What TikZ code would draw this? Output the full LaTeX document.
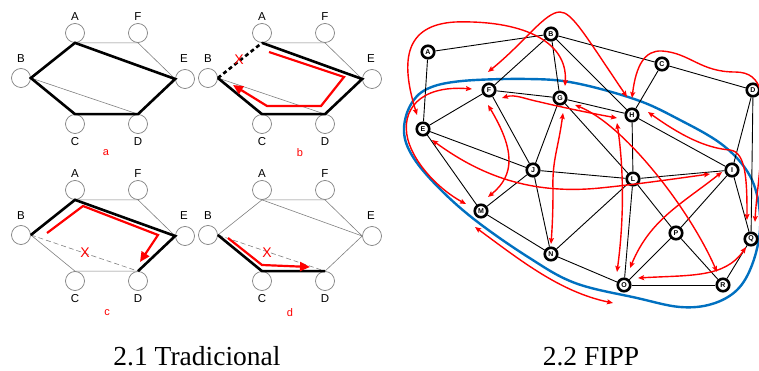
\documentclass[tikz,border=0pt]{standalone}
\usepackage{fontspec}
\setmainfont{Liberation Sans}
\newfontfamily\capfont{Liberation Serif}
\usetikzlibrary{arrows.meta,calc}
\definecolor{fippblue}{RGB}{0,112,192}
\definecolor{edgegray}{RGB}{128,128,128}

\newcommand{\hexpanel}[1]{%
  \node[hc] (#1A) at (75,33) {};
  \node[hc] (#1F) at (138,33) {};
  \node[hc] (#1B) at (21,78) {};
  \node[hc] (#1E) at (185,79) {};
  \node[hc] (#1C) at (75,124) {};
  \node[hc] (#1D) at (138,124) {};
  \node[hl] (#1Al) at (75,17) {A};
  \node[hl] (#1Fl) at (138,17) {F};
  \node[hl] (#1Bl) at (21,59) {B};
  \node[hl] (#1El) at (184,59) {E};
  \node[hl] (#1Cl) at (75,142) {C};
  \node[hl] (#1Dl) at (138,142) {D};
}

\begin{document}
\begin{tikzpicture}[x=1pt,y=-1pt,
  hc/.style={circle,draw=edgegray,line width=0.7pt,minimum size=19pt,inner sep=0pt},
  hl/.style={font=\fontsize{11.5}{11.5}\selectfont,inner sep=0pt},
  tag/.style={text=red,font=\fontsize{11}{11}\selectfont,inner sep=0pt},
  xmark/.style={text=red,font=\fontsize{14}{14}\selectfont,inner sep=0pt},
  grayedge/.style={draw=edgegray,line width=0.6pt},
  blackedge/.style={draw=black,line width=2.6pt},
  dashblack/.style={draw=black,line width=2.6pt,dash pattern=on 4pt off 3pt},
  dashgray/.style={draw=edgegray,line width=0.6pt,dash pattern=on 5pt off 3pt},
  routered/.style={draw=red,line width=2.2pt,-{Triangle[length=10pt,width=9pt]}},
  gnode/.style={circle,draw=black,line width=2.6pt,fill=white,minimum size=12.5pt,inner sep=0pt,font=\fontsize{7}{7}\selectfont\bfseries},
  gedge/.style={draw=black,line width=0.9pt},
  farrow/.style={draw=red,line width=1.4pt,{Stealth[length=6pt,width=5pt,inset=1pt]}-{Stealth[length=6pt,width=5pt,inset=1pt]}},
  blueline/.style={draw=fippblue,line width=2.4pt},
  captext/.style={font=\capfont\fontsize{27.5}{27.5}\selectfont,inner sep=0pt,anchor=base}
]
\useasboundingbox (0,0) rectangle (759,371);

% ---- panel a
\begin{scope}
\hexpanel{a}
\draw[grayedge] (aA.south) -- (aF.south) -- (aE.west);
\draw[grayedge] (aB.east) -- (aD.north);
\draw[blackedge] (aA.south) -- (aB.east) -- (aC.north) -- (aD.north) -- (aE.west) -- cycle;
\node[tag] (atag) at (106,153) {a};
\end{scope}

% ---- panel b
\begin{scope}[shift={(187,0)}]
\hexpanel{b}
\draw[grayedge] (bA.south) -- (bF.south) -- (bE.west);
\draw[grayedge] (bB.east) -- (bD.north);
\draw[blackedge] (bA.south) -- (bE.west) -- (bD.north) -- (bC.north) -- (bB.east);
\draw[dashblack] (bB.east) -- (bA.south);
\node[xmark] (bX) at (52,60) {X};
\draw[routered] (82,52) -- (157,77) -- (134,106) -- (80,106) -- (46,85);
\node[tag] (btag) at (113,153) {b};
\end{scope}

% ---- panel c
\begin{scope}[shift={(0,157)}]
\hexpanel{c}
\draw[grayedge] (cA.south) -- (cF.south) -- (cE.west);
\draw[grayedge] (cB.east) -- (cC.north) -- (cD.north);
\draw[dashgray] (cB.east) -- (cD.north);
\draw[blackedge] (cB.east) -- (cA.south) -- (cE.west) -- (cD.north);
\node[xmark] (cX) at (85,96) {X};
\draw[routered] (47,76) -- (83,49) -- (158,78) -- (140,105);
\node[tag] (ctag) at (107,156) {c};
\end{scope}

% ---- panel d
\begin{scope}[shift={(187,157)}]
\hexpanel{d}
\draw[grayedge] (dB.east) -- (dA.south) -- (dF.south) -- (dE.west) -- (dD.north);
\draw[grayedge] (dA.south) -- (dE.west);
\draw[dashgray] (dB.east) -- (dD.north);
\draw[blackedge] (dB.east) -- (dC.north) -- (dD.north);
\node[xmark] (dX) at (80,96) {X};
\draw[routered] (41,81) -- (75,108) -- (123,110);
\node[tag] (dtag) at (103,156) {d};
\end{scope}

% ---- FIPP graph: protection cycle outline
\draw[blueline] plot[smooth cycle, tension=0.6] coordinates {
  (462,81) (528,79) (575,83) (637,100) (680,120) (720,143) (745,168) (757,195)
  (760,230) (752,265) (737,290) (712,304) (680,307) (637,298) (575,283)
  (528,257) (475,220) (438,187) (413,157) (404,132) (410,106) (427,89)};

\node[gnode] (A) at (428,52) {A};
\node[gnode] (B) at (551,34) {B};
\node[gnode] (C) at (662,64) {C};
\node[gnode] (D) at (753,90) {D};
\node[gnode] (E) at (423,129) {E};
\node[gnode] (F) at (489,90) {F};
\node[gnode] (G) at (560,98) {G};
\node[gnode] (H) at (632,115) {H};
\node[gnode] (I) at (732,170) {I};
\node[gnode] (J) at (533,170) {J};
\node[gnode] (L) at (633,179) {L};
\node[gnode] (M) at (481,211) {M};
\node[gnode] (N) at (551,254) {N};
\node[gnode] (O) at (624,285) {O};
\node[gnode] (P) at (676,233) {P};
\node[gnode] (Q) at (751,239) {Q};
\node[gnode] (R) at (723,285) {R};

\foreach \u/\v in {A/B,A/E,B/F,B/G,B/H,B/C,C/H,C/D,D/I,D/Q,E/F,E/J,E/M,F/G,F/J,G/H,G/J,G/L,H/L,H/I,J/M,J/N,J/L,M/N,N/L,N/O,L/I,L/O,L/P,O/P,P/I,P/R,O/R,R/Q,I/Q}
  \draw[gedge] (\u) -- (\v);

% red FIPP paths
\draw[farrow] ($(E)+(-6,-14)$) .. controls (400,60) and (405,25) .. (455,22) .. controls (520,20) and (568,40) .. ($(G)+(5,-12)$);
\draw[farrow] ($(F)+(-1,-18)$) .. controls (525,42) and (545,12) .. (560,12) .. controls (572,12) and (585,35) .. ($(H)+(-5,-18)$);
\draw[farrow] ($(H)+(0,-17)$) .. controls (636,65) and (645,50) .. (662,51) .. controls (690,53) and (700,72) .. (735,72) .. controls (765,72) and (764,100) .. (762,140) .. controls (760,175) and (756,200) .. ($(Q)+(4,-17)$);
\draw[farrow] ($(H)+(16,-3)$) .. controls (680,135) and (705,148) .. (730,150) .. controls (746,152) and (747,180) .. ($(Q)+(-4,-19)$);
\draw[farrow] ($(F)+(13,8)$) .. controls (515,94) and (525,99) .. (540,102) .. controls (565,108) and (595,114) .. ($(H)+(-15,3)$);
\draw[farrow] ($(G)+(15,7)$) .. controls (625,125) and (690,210) .. ($(R)+(-6,-13)$);
\draw[farrow] ($(H)+(-15,8)$) .. controls (624,170) and (624,220) .. ($(O)+(-7,-13)$);
\draw[farrow] ($(G)+(3,15)$) .. controls (558,150) and (552,160) .. (553,190) .. controls (553,215) and (552,230) .. ($(N)+(0,-10)$);
\draw[farrow] ($(F)+(-1,15)$) .. controls (515,150) and (515,175) .. ($(M)+(7,-14)$);
\draw[farrow] ($(F)+(-17,-1)$) .. controls (420,85) and (400,110) .. (408,140) .. controls (415,165) and (440,190) .. ($(M)+(-15,-7)$);
\draw[farrow] ($(E)+(9,11)$) .. controls (480,175) and (530,195) .. (600,188) .. controls (640,184) and (680,178) .. ($(I)+(-22,4)$);
\draw[farrow] ($(I)+(-10,2)$) .. controls (680,205) and (650,220) .. ($(O)+(6,-17)$);
\draw[farrow] ($(O)+(14,-7)$) .. controls (690,275) and (725,278) .. ($(Q)+(-5,8)$);
\draw[farrow] ($(M)+(-6,16)$) .. controls (520,260) and (560,292) .. ($(O)+(-11,18)$);

% captions
\node[captext] (cap1) at (197,365) {2.1 Tradicional};
\node[captext] (cap2) at (591,365) {2.2 FIPP};
\end{tikzpicture}
\end{document}
